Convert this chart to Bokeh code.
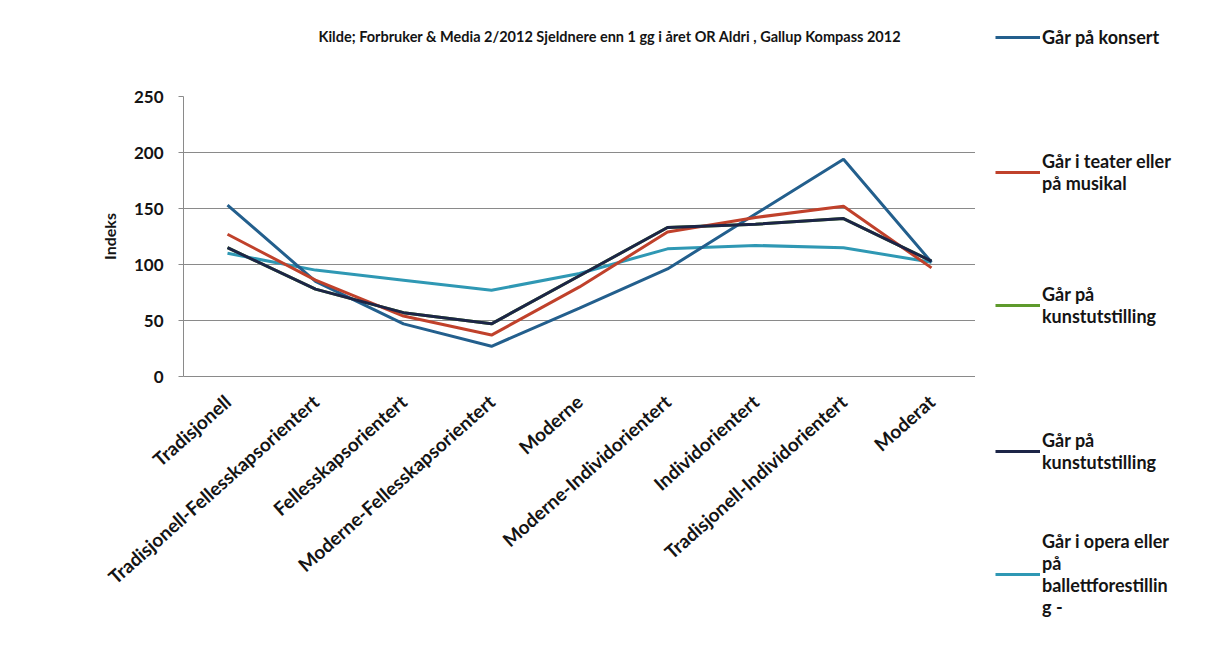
from bokeh.plotting import figure
from bokeh.layouts import row
from bokeh.models import Legend, LegendItem, FixedTicker, Range1d, FactorRange, Title
from bokeh.embed import file_html
from bokeh.resources import INLINE

categories = ["Tradisjonell", "Tradisjonell-Fellesskapsorientert", "Fellesskapsorientert",
              "Moderne-Fellesskapsorientert", "Moderne", "Moderne-Individorientert",
              "Individorientert", "Tradisjonell-Individorientert", "Moderat"]
konsert = [153, 85, 47, 27, 61, 96, 145, 194, 102]
teater = [127, 86, 54, 37, 80, 129, 142, 152, 97]
kunstutstilling_gronn = [115, 78, 57, 47, 90, 133, 136, 141, 103]
kunstutstilling = [115, 78, 57, 47, 90, 133, 136, 141, 103]
opera = [110, 95, 86, 77, 92, 114, 117, 115, 102]
y_ticks = [0, 50, 100, 150, 200, 250]

series_names = ["Går på konsert", "Går i teater eller\npå musikal", "Går på\nkunstutstilling",
                "Går på\nkunstutstilling", "Går i opera eller\npå\nballettforestillin\ng -"]
colors = ["#235f8d", "#c0412b", "#5e9a2c", "#1c2547", "#2f98b4"]

FONT = "Lato"
TXT = "#141414"

p = figure(width=975, height=654, x_range=FactorRange(*categories, range_padding=0),
           y_range=Range1d(0, 250), output_backend="svg", toolbar_location=None,
           min_border_left=183, min_border_right=0, min_border_top=96, min_border_bottom=278,
           title="Kilde; Forbruker & Media 2/2012 Sjeldnere enn 1 gg i året OR Aldri , Gallup Kompass 2012")
p.outline_line_color = None
p.background_fill_color = "white"
p.border_fill_color = "white"

p.title.text_font = FONT
p.title.text_font_style = "bold"
p.title.text_font_size = "14.5px"
p.title.text_color = TXT
p.title.align = "left"
p.title.offset = 135
p.title.standoff = 0

# empty spacer between the title and the plot area
spacer = Title(text=" ", text_font=FONT, text_font_size="14.5px", standoff=33)
p.add_layout(spacer, "above")

p.xgrid.grid_line_color = None
p.ygrid.grid_line_color = "#8a8a8a"
p.ygrid.grid_line_width = 1
p.yaxis.ticker = FixedTicker(ticks=y_ticks)
p.yaxis.axis_line_color = "#8a8a8a"
p.yaxis.major_tick_line_color = "#8a8a8a"
p.yaxis.major_tick_out = 5
p.yaxis.major_tick_in = 0
p.yaxis.minor_tick_line_color = None
p.yaxis.major_label_standoff = 15
p.yaxis.major_label_text_font = FONT
p.yaxis.major_label_text_font_style = "bold"
p.yaxis.major_label_text_font_size = "17px"
p.yaxis.major_label_text_color = TXT
p.yaxis.axis_label = "Indeks"
p.yaxis.axis_label_text_font = FONT
p.yaxis.axis_label_text_font_style = "bold"
p.yaxis.axis_label_text_font_size = "16px"
p.yaxis.axis_label_text_color = TXT
p.yaxis.axis_label_standoff = 12

p.xaxis.axis_line_color = "#8a8a8a"
p.xaxis.major_tick_line_color = None
p.xaxis.major_label_orientation = 0.725
p.xaxis.major_label_standoff = 16
p.xaxis.major_label_text_font = FONT
p.xaxis.major_label_text_font_style = "bold"
p.xaxis.major_label_text_font_size = "19px"
p.xaxis.major_label_text_color = TXT

all_series = [konsert, teater, kunstutstilling_gronn, kunstutstilling, opera]
draw_order = [2, 4, 0, 1, 3]
for i in draw_order:
    p.line(categories, all_series[i], line_color=colors[i], line_width=3)

# legend panel
lp = figure(width=245, height=654, x_range=Range1d(0, 1), y_range=Range1d(0, 1),
            output_backend="svg", toolbar_location=None, min_border=0)
try:
    lp.frame_align = False
except Exception:
    pass
lp.axis.visible = False
lp.grid.visible = False
lp.outline_line_color = None
lp.background_fill_color = "white"
lp.border_fill_color = "white"

nan = float("nan")
leg_pos = [(20, 606), (20, 460), (20, 327), (20, 181), (20, 36)]
for i in range(5):
    r = lp.line(x=[nan], y=[nan], line_color=colors[i], line_width=3)
    lg = Legend(items=[LegendItem(label=series_names[i], renderers=[r])],
                location=leg_pos[i], padding=0, margin=0, border_line_color=None,
                background_fill_alpha=0, glyph_width=45, glyph_height=20, label_standoff=2,
                label_text_font=FONT, label_text_font_style="bold", label_text_font_size="18px",
                label_text_color=TXT)
    lp.add_layout(lg, "center")

layout = row(p, lp, spacing=0)

open("out.html", "w").write(file_html(layout, INLINE))
